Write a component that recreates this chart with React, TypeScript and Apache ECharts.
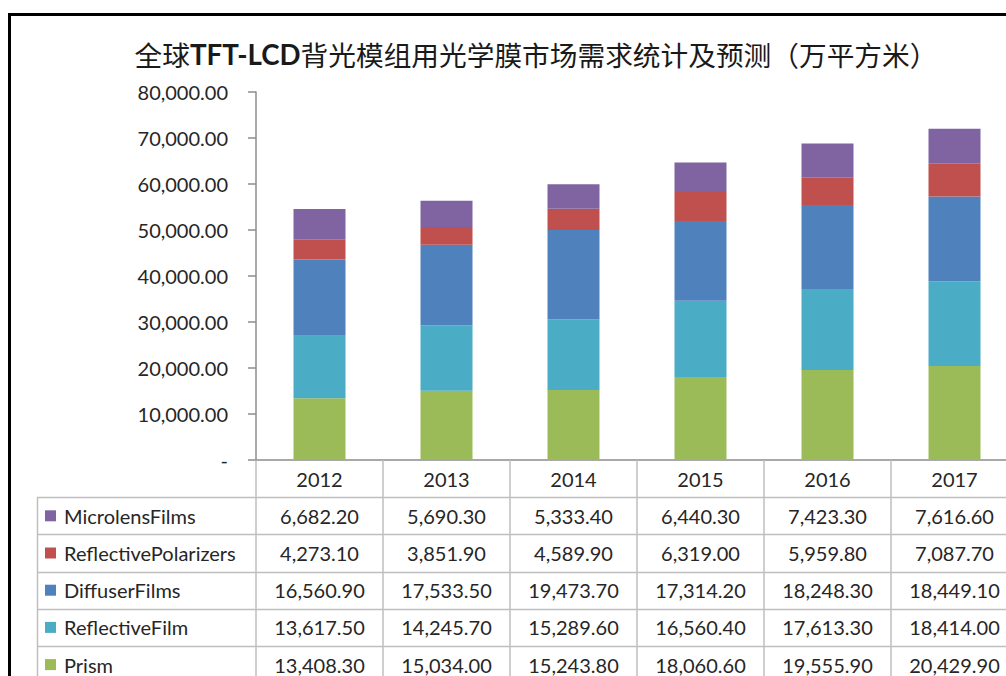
import React, { useEffect, useRef } from "react";
import * as echarts from "echarts";

const years = ["2012", "2013", "2014", "2015", "2016", "2017"];
const microlensFilms = [6682.2, 5690.3, 5333.4, 6440.3, 7423.3, 7616.6];
const reflectivePolarizers = [4273.1, 3851.9, 4589.9, 6319.0, 5959.8, 7087.7];
const diffuserFilms = [16560.9, 17533.5, 19473.7, 17314.2, 18248.3, 18449.1];
const reflectiveFilm = [13617.5, 14245.7, 15289.6, 16560.4, 17613.3, 18414.0];
const prism = [13408.3, 15034.0, 15243.8, 18060.6, 19555.9, 20429.9];
const yTicks = [0, 10000, 20000, 30000, 40000, 50000, 60000, 70000, 80000];

const titleA = "全球";
const titleB = "TFT-LCD";
const titleC = "背光模组用光学膜市场需求统计及预测（万平方米）";

// table order (top to bottom)
const tableRows = [
  { name: "MicrolensFilms", data: microlensFilms, color: "#8064A2" },
  { name: "ReflectivePolarizers", data: reflectivePolarizers, color: "#C0504D" },
  { name: "DiffuserFilms", data: diffuserFilms, color: "#4F81BD" },
  { name: "ReflectiveFilm", data: reflectiveFilm, color: "#4BACC6" },
  { name: "Prism", data: prism, color: "#9BBB59" },
];

const fmt = (v: number) =>
  v.toLocaleString("en-US", { minimumFractionDigits: 2, maximumFractionDigits: 2 });

export default function App() {
  const ref = useRef<HTMLDivElement>(null);
  useEffect(() => {
    if (!ref.current) return;
    const chart = echarts.init(ref.current, null, { renderer: "svg" });
    const FONT = "Lato, 'Liberation Sans', sans-serif";
    const CJK = "'Noto Sans CJK SC', sans-serif";
    const gridLeft = 256;
    const gridTop = 92;
    const gridH = 368;
    const gridW = 762;
    const rowH = 37.2;
    const axisY = gridTop + gridH;
    const tableLeft = 37;
    const lineColor = "#BFBFBF";

    const seriesOrder = [...tableRows].reverse();

    const graphics: any[] = [];
    graphics.push({
      type: "rect",
      shape: { x: 9.5, y: 14.5, width: 1020, height: 700 },
      style: { fill: "none", stroke: "#000", lineWidth: 3 },
      silent: true,
    });
    for (let k = 1; k <= tableRows.length; k++) {
      const y = Math.round(axisY + k * rowH) + 0.5;
      graphics.push({
        type: "line",
        shape: { x1: tableLeft, y1: y, x2: 1006, y2: y },
        style: { stroke: lineColor, lineWidth: 1.5 },
        silent: true,
      });
    }
    graphics.push({
      type: "line",
      shape: { x1: tableLeft + 0.5, y1: axisY + rowH, x2: tableLeft + 0.5, y2: 676 },
      style: { stroke: lineColor, lineWidth: 1.5 },
      silent: true,
    });
    tableRows.forEach((r, i) => {
      const cy = axisY + rowH * (i + 1) + rowH / 2;
      graphics.push({
        type: "rect",
        shape: { x: 45, y: cy - 5.5, width: 11, height: 11 },
        style: { fill: r.color },
        silent: true,
      });
      graphics.push({
        type: "text",
        x: 64,
        y: cy,
        style: {
          text: r.name,
          font: `20px ${FONT}`,
          fill: "#262626",
          textVerticalAlign: "middle",
          textAlign: "left",
        },
        silent: true,
      });
    });

    chart.setOption({
      animation: false,
      title: {
        text: `{a|${titleA}}{b|${titleB}}{a|${titleC}}`,
        left: 531,
        textAlign: "center",
        top: 35,
        textStyle: {
          rich: {
            a: { fontFamily: CJK, fontSize: 27.7, fontWeight: "normal", color: "#1a1a1a" },
            b: { fontFamily: FONT, fontSize: 27.7, fontWeight: "bold", color: "#1a1a1a" },
          },
        },
      },
      grid: {
        left: gridLeft,
        top: gridTop,
        width: gridW,
        height: gridH,
        outerBoundsMode: "none",
        containLabel: false,
      },
      xAxis: {
        type: "category",
        data: years,
        axisLine: { lineStyle: { color: "#8C8C8C", width: 1.5 } },
        axisTick: {
          show: true,
          length: 230,
          lineStyle: { color: lineColor, width: 1.5 },
        },
        axisLabel: {
          margin: 0,
          fontFamily: FONT,
          fontSize: 20,
          color: "#262626",
          lineHeight: rowH,
          formatter: (_v: string, idx: number) =>
            [years[idx], ...tableRows.map((r) => fmt(r.data[idx]))].join("\n"),
        },
      },
      yAxis: {
        type: "value",
        min: yTicks[0],
        max: yTicks[yTicks.length - 1],
        interval: yTicks[1] - yTicks[0],
        splitLine: { show: false },
        axisLine: { show: true, lineStyle: { color: "#8C8C8C", width: 1.5 } },
        axisTick: { show: true, length: 8, lineStyle: { color: "#8C8C8C", width: 1.5 } },
        axisLabel: {
          margin: 28,
          fontFamily: FONT,
          fontSize: 20,
          color: "#262626",
          formatter: (v: number) => (v === 0 ? "-" : fmt(v)),
        },
      },
      series: seriesOrder.map((r) => ({
        name: r.name,
        type: "bar",
        stack: "total",
        barWidth: 52,
        data: r.data,
        itemStyle: { color: r.color },
      })),
      graphic: graphics,
    });
    return () => chart.dispose();
  }, []);
  return (
    <div
      ref={ref}
      style={{ position: "fixed", left: 0, top: 0, width: 1006, height: 676, background: "#fff" }}
    />
  );
}
